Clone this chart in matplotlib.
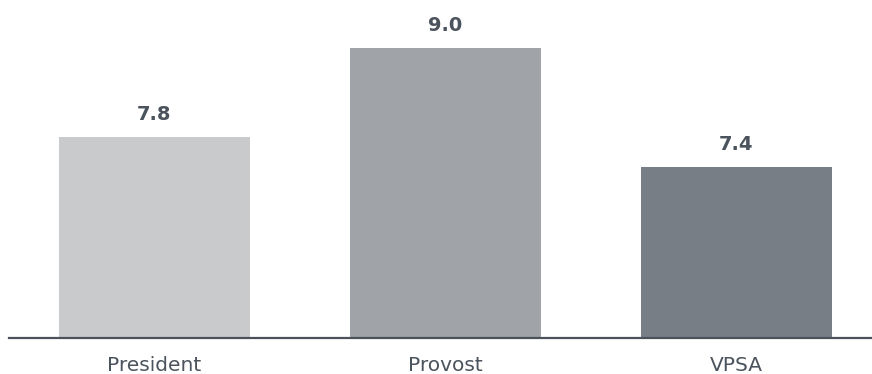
import matplotlib
matplotlib.use('Agg')
import matplotlib.pyplot as plt

categories = ['President', 'Provost', 'VPSA']
values = [7.8, 9.0, 7.4]
bar_colors = ['#c9cacc', '#a0a3a7', '#787e86']
text_color = '#4b535d'

fig = plt.figure(figsize=(8.72, 3.74), dpi=100)
ax = fig.add_axes([9 / 872, 36.3 / 374, 863 / 872, 337.7 / 374])

x = range(len(categories))
bars = ax.bar(x, values, width=0.656, color=bar_colors, zorder=2)

ax.set_ylim(5.1, 9.64)
ax.set_xlim(-0.5, 2.466)

for b, v in zip(bars, values):
    ax.annotate(f'{v:.1f}', (b.get_x() + b.get_width() / 2, v),
                xytext=(0, 12), textcoords='offset points',
                ha='center', va='baseline', fontsize=14, fontweight='bold',
                color=text_color)

ax.set_xticks(list(x))
ax.set_xticklabels(categories, fontsize=14.5, color=text_color)
ax.tick_params(axis='x', length=0, pad=13)
ax.set_yticks([])
for s in ['top', 'right', 'left']:
    ax.spines[s].set_visible(False)
ax.spines['bottom'].set_color('#4b525b')
ax.spines['bottom'].set_linewidth(1.6)
ax.spines['bottom'].set_zorder(3)

fig.savefig('out.png', dpi=100)
